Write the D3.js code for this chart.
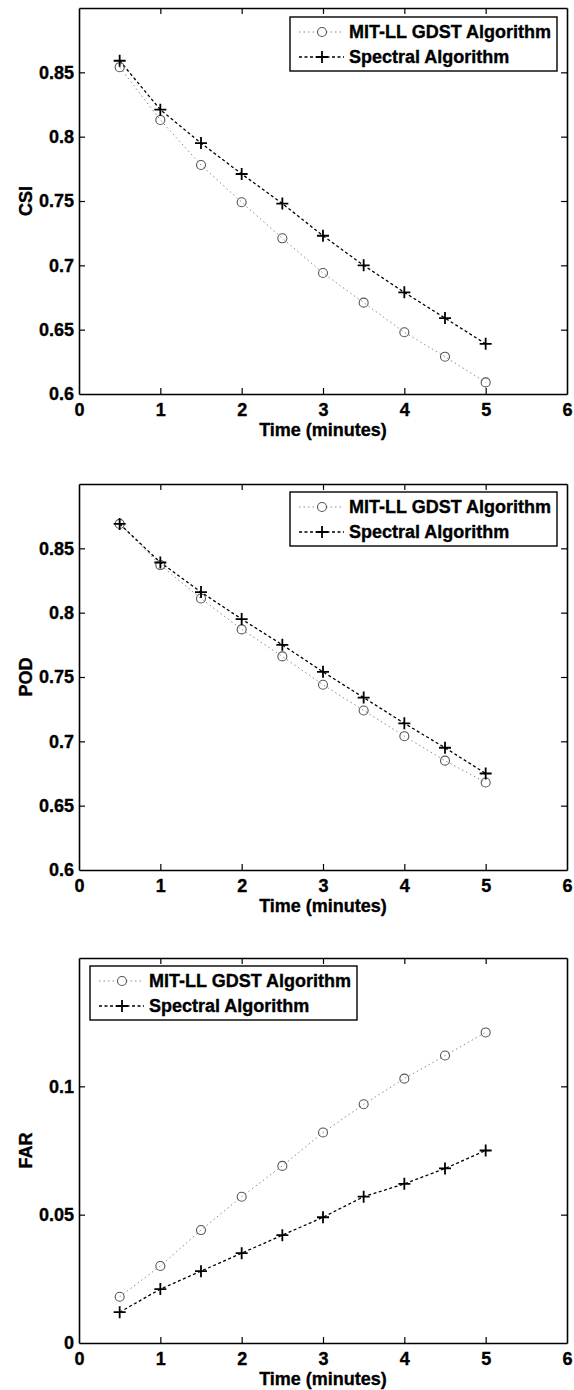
<!DOCTYPE html>
<html>
<head>
<meta charset="utf-8">
<script src="https://cdn.jsdelivr.net/npm/d3@7"></script>
<style>
  body { margin: 0; background: #fff; }
  svg { display: block; font-family: "Liberation Sans", Arial, sans-serif; font-weight: bold; }
  svg text { stroke: #000; stroke-width: 0.35; }
  .tick line { stroke: #000; stroke-width: 1.2; }
  .domain { stroke: #000; stroke-width: 1.6; }
</style>
</head>
<body>
<svg width="574" height="1390"></svg>
<script>
const times = [0.5, 1, 1.5, 2, 2.5, 3, 3.5, 4, 4.5, 5];

const csiGdst     = [0.854, 0.813, 0.778, 0.749, 0.721, 0.694, 0.671, 0.648, 0.629, 0.609];
const csiSpectral = [0.859, 0.821, 0.795, 0.771, 0.748, 0.723, 0.700, 0.679, 0.659, 0.639];

const podGdst     = [0.869, 0.837, 0.811, 0.787, 0.766, 0.744, 0.724, 0.704, 0.685, 0.668];
const podSpectral = [0.869, 0.839, 0.816, 0.795, 0.775, 0.754, 0.734, 0.714, 0.695, 0.675];

const farGdst     = [0.018, 0.030, 0.044, 0.057, 0.069, 0.082, 0.093, 0.103, 0.112, 0.121];
const farSpectral = [0.012, 0.021, 0.028, 0.035, 0.042, 0.049, 0.057, 0.062, 0.068, 0.075];

const xTicks = [0, 1, 2, 3, 4, 5, 6];
const ratioTicks = [0.6, 0.65, 0.7, 0.75, 0.8, 0.85];
const farTicks = [0, 0.05, 0.1];
const legendLabels = ["MIT-LL GDST Algorithm", "Spectral Algorithm"];

const svg = d3.select("svg");
const left = 79, right = 567;
const fontSize = "18px";

const x = d3.scaleLinear().domain([0, 6]).range([left, right]);

function drawPanel(p) {
    const y = d3.scaleLinear().domain(p.domain).range([p.bottom, p.top]);
    const g = svg.append("g");

    // box with inward ticks on all four sides
    g.append("g").attr("transform", "translate(0," + p.bottom + ")")
        .call(d3.axisBottom(x).tickValues(xTicks).tickSizeInner(-6).tickSizeOuter(0).tickPadding(9).tickFormat(d3.format("d")))
        .selectAll("text").style("font-size", fontSize).attr("fill", "#000");
    g.append("g").attr("transform", "translate(0," + p.top + ")")
        .call(d3.axisTop(x).tickValues(xTicks).tickSizeInner(-6).tickSizeOuter(0).tickFormat(""));
    g.append("g").attr("transform", "translate(" + left + ",0)")
        .call(d3.axisLeft(y).tickValues(p.ticks).tickSizeInner(-6).tickSizeOuter(0).tickPadding(5).tickFormat(d => String(+d.toFixed(2))))
        .selectAll("text").style("font-size", fontSize).attr("fill", "#000");
    g.append("g").attr("transform", "translate(" + right + ",0)")
        .call(d3.axisRight(y).tickValues(p.ticks).tickSizeInner(-6).tickSizeOuter(0).tickFormat(""));
    g.selectAll(".tick").filter(d => d === 0 || d === 6 || d === p.domain[0]).select("line").remove();

    g.append("text")
        .attr("x", (left + right) / 2).attr("y", p.bottom + 42)
        .attr("text-anchor", "middle").style("font-size", fontSize)
        .text("Time (minutes)");
    g.append("text")
        .attr("transform", "translate(32," + (p.top + p.bottom) / 2 + ") rotate(-90)")
        .attr("text-anchor", "middle").style("font-size", fontSize)
        .text(p.label);

    const line = d3.line().x((d, i) => x(times[i])).y(d => y(d));

    g.append("path").datum(p.gdst)
        .attr("d", line).attr("fill", "none")
        .attr("stroke", "#8a8a8a").attr("stroke-width", 1).attr("stroke-dasharray", "1.5,3");
    g.append("path").datum(p.spectral)
        .attr("d", line).attr("fill", "none")
        .attr("stroke", "#000").attr("stroke-width", 1.3).attr("stroke-dasharray", "3,2.5");

    g.selectAll(".circ").data(p.gdst).enter().append("circle")
        .attr("cx", (d, i) => x(times[i])).attr("cy", d => y(d)).attr("r", 4.5)
        .attr("fill", "none").attr("stroke", "#555").attr("stroke-width", 1.1);
    g.selectAll(".plus").data(p.spectral).enter().append("path")
        .attr("d", (d, i) => {
            const cx = x(times[i]), cy = y(d);
            return "M" + (cx - 6) + "," + cy + "H" + (cx + 6) + "M" + cx + "," + (cy - 6) + "V" + (cy + 6);
        })
        .attr("stroke", "#000").attr("stroke-width", 1.8);

    // legend
    const lg = g.append("g").attr("transform", "translate(" + p.legendX + "," + p.legendY + ")");
    lg.append("rect").attr("width", 267).attr("height", 54)
        .attr("fill", "#fff").attr("stroke", "#000").attr("stroke-width", 1.4);
    legendLabels.forEach((label, i) => {
        const cy = 15 + i * 25;
        lg.append("line").attr("x1", 9).attr("x2", 54).attr("y1", cy).attr("y2", cy)
            .attr("stroke", i === 0 ? "#8a8a8a" : "#000")
            .attr("stroke-width", i === 0 ? 1 : 1.3)
            .attr("stroke-dasharray", i === 0 ? "1.5,3" : "3,2.5");
        if (i === 0) {
            lg.append("circle").attr("cx", 32).attr("cy", cy).attr("r", 4.5)
                .attr("fill", "#fff").attr("stroke", "#555").attr("stroke-width", 1.1);
        } else {
            lg.append("path").attr("d", "M26," + cy + "H38M32," + (cy - 6) + "V" + (cy + 6))
                .attr("stroke", "#000").attr("stroke-width", 1.8);
        }
        lg.append("text").attr("x", 59).attr("y", cy + 6).style("font-size", fontSize).text(label);
    });
}

drawPanel({ top: 8, bottom: 394, domain: [0.6, 0.9], ticks: ratioTicks, label: "CSI",
    gdst: csiGdst, spectral: csiSpectral, legendX: 290, legendY: 17 });
drawPanel({ top: 484, bottom: 870, domain: [0.6, 0.9], ticks: ratioTicks, label: "POD",
    gdst: podGdst, spectral: podSpectral, legendX: 290, legendY: 492 });
drawPanel({ top: 958, bottom: 1343, domain: [0, 0.15], ticks: farTicks, label: "FAR",
    gdst: farGdst, spectral: farSpectral, legendX: 90, legendY: 966 });
</script>
</body>
</html>
